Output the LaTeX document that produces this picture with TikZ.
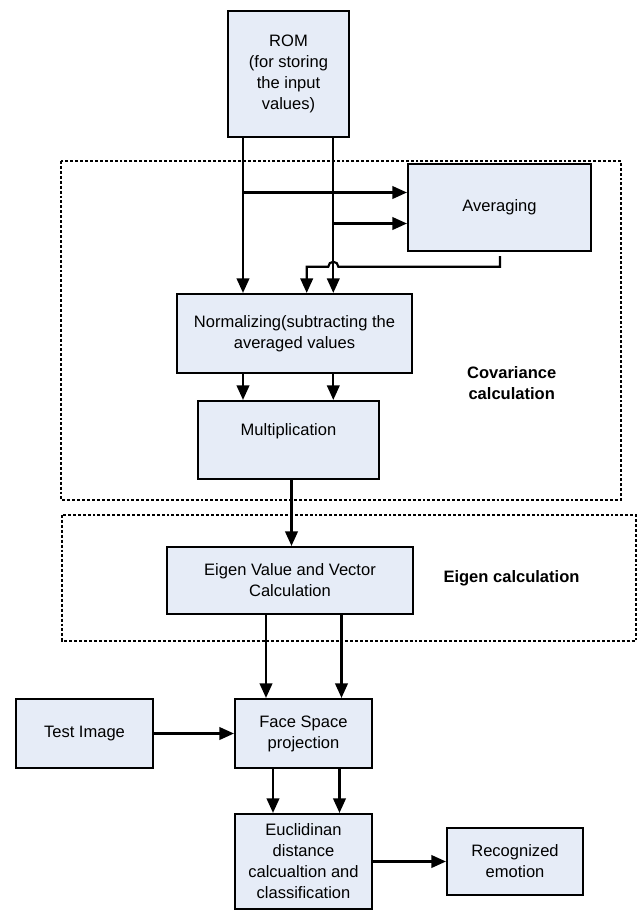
\documentclass[tikz,border=0pt]{standalone}
\usepackage{fontspec}
\setmainfont{Liberation Sans}
\usetikzlibrary{arrows.meta}
\definecolor{boxfill}{HTML}{E6ECF7}
\begin{document}
\begin{tikzpicture}[x=0.75pt,y=-0.75pt,
  blk/.style={draw=black, line width=1.6pt, fill=boxfill, inner sep=0pt, align=center,
              font=\fontsize{12.4}{15.75}\selectfont},
  arr/.style={line width=1.6pt, -{Triangle[length=11pt,width=9.5pt]}},
  grp/.style={draw=black, line width=1.1pt, dash pattern=on 2.2pt off 1.5pt},
  lbl/.style={font=\fontsize{12.4}{15.75}\selectfont\bfseries, align=center}]
\useasboundingbox (0,0) rectangle (638,911);
% group frames
\draw[grp] (61,161) rectangle (621,500);
\draw[grp] (62,515) rectangle (636,641);
% blocks
\node[blk, minimum width=90.75pt, minimum height=94.5pt] (rom) at (288.5,74)
  {ROM\\(for storing\\the input\\values)};
\node[blk, minimum width=137.25pt, minimum height=65.25pt] (avg) at (499.5,207.5) {Averaging};
\node[blk, minimum width=176.25pt, minimum height=59.25pt] (norm) at (294.5,333.5)
  {Normalizing(subtracting the\\averaged values};
\node[blk, minimum width=135.75pt, minimum height=58.5pt] (mult) at (288.5,440)
  {Multiplication\\\mbox{}};
\node[blk, minimum width=184.5pt, minimum height=50.25pt] (eig) at (290,580.5)
  {Eigen Value and Vector\\Calculation};
\node[blk, minimum width=102.75pt, minimum height=51.75pt] (face) at (303.5,733.5)
  {Face Space\\projection};
\node[blk, minimum width=102.75pt, minimum height=51.75pt] (test) at (84.5,733.5) {Test Image};
\node[blk, minimum width=102.75pt, minimum height=71.25pt] (eucl) at (303.5,861.5)
  {Euclidinan\\distance\\calcualtion and\\classification};
\node[blk, minimum width=102pt, minimum height=50.25pt] (rec) at (515,861.5)
  {Recognized\\emotion};
% group labels
\node[lbl] (covl) at (511.7,383) {Covariance\\calculation};
\node[lbl] (eigl) at (511.5,578) {Eigen calculation};
% x positions
\coordinate (xa) at (243,0);
\coordinate (xb) at (333.3,0);
\coordinate (xc) at (306.7,0);
\coordinate (xd) at (291.5,0);
\coordinate (xe) at (266,0);
\coordinate (xf) at (341.5,0);
\coordinate (xg) at (273,0);
\coordinate (xh) at (339.5,0);
\coordinate (xfb) at (500,0);
\coordinate (j1) at (243,192.5);
\coordinate (j2) at (333.3,223.5);
\coordinate (hop) at (338.3,266.7);
% connectors
\draw[arr] (rom.south -| xa) -- (norm.north -| xa);
\draw[arr] (rom.south -| xb) -- (norm.north -| xb);
\draw[arr] (j1) -- (j1 -| avg.west);
\draw[arr] (j2) -- (j2 -| avg.west);
\draw[arr] ([yshift=-3pt]avg.south -| xfb) -- (hop -| xfb) -- (hop)
  arc[start angle=0, end angle=-180, radius=5] -- (hop -| xc) -- (norm.north -| xc);
\draw[arr] (norm.south -| xa) -- (mult.north -| xa);
\draw[arr] (norm.south -| xb) -- (mult.north -| xb);
\draw[arr] (mult.south -| xd) -- (eig.north -| xd);
\draw[arr] (eig.south -| xe) -- (face.north -| xe);
\draw[arr] (eig.south -| xf) -- (face.north -| xf);
\draw[arr] (test.east) -- (face.west);
\draw[arr] (face.south -| xg) -- (eucl.north -| xg);
\draw[arr] (face.south -| xh) -- (eucl.north -| xh);
\draw[arr] (eucl.east) -- (rec.west);
\end{tikzpicture}
\end{document}
